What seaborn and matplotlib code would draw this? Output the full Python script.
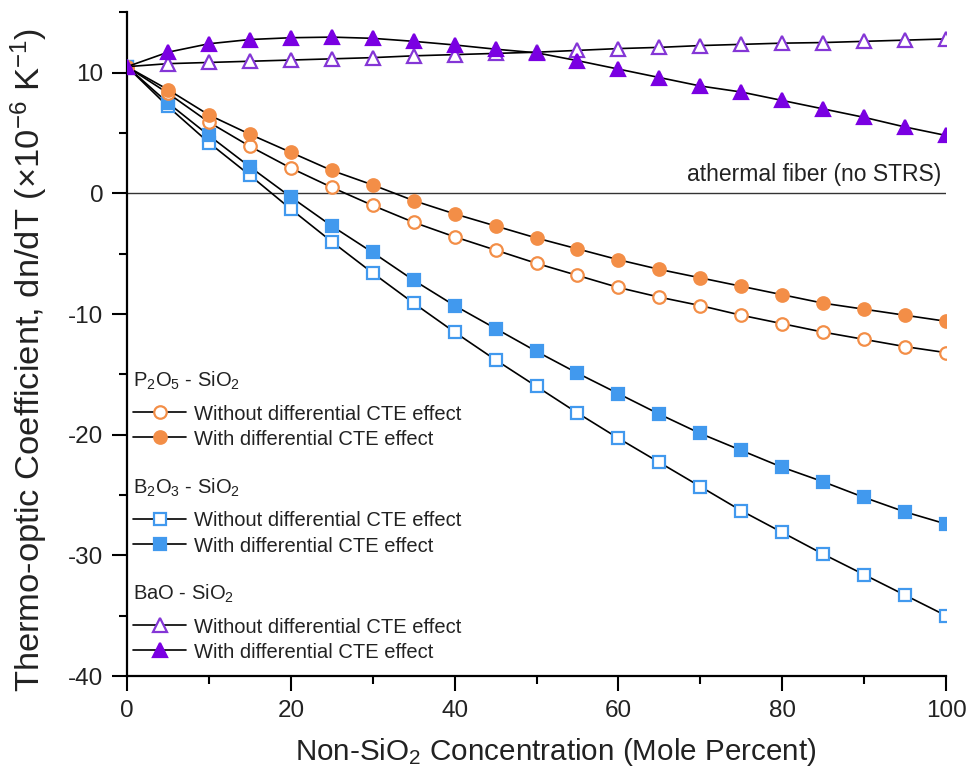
import numpy as np
import pandas as pd
import matplotlib
matplotlib.use("Agg")
import matplotlib.pyplot as plt
from matplotlib.lines import Line2D
from matplotlib.legend import Legend
from matplotlib.ticker import MultipleLocator
import seaborn as sns

# ---- data ----
conc = [0, 5, 10, 15, 20, 25, 30, 35, 40, 45, 50, 55, 60, 65, 70, 75, 80, 85, 90, 95, 100]

p2o5_without = [10.5, 8.3, 5.9, 3.9, 2.1, 0.5, -1.0, -2.4, -3.6, -4.7, -5.8, -6.8, -7.8, -8.6,
                -9.3, -10.1, -10.8, -11.5, -12.1, -12.7, -13.2]
p2o5_with = [10.5, 8.6, 6.5, 4.9, 3.4, 1.9, 0.7, -0.6, -1.7, -2.7, -3.7, -4.6, -5.5, -6.3,
             -7.0, -7.7, -8.4, -9.1, -9.6, -10.1, -10.6]
b2o3_without = [10.5, 7.2, 4.2, 1.5, -1.3, -4.0, -6.6, -9.1, -11.5, -13.8, -16.0, -18.2, -20.3,
                -22.3, -24.3, -26.3, -28.1, -29.9, -31.6, -33.3, -35.0]
b2o3_with = [10.5, 7.5, 4.8, 2.2, -0.3, -2.7, -4.9, -7.2, -9.3, -11.2, -13.1, -14.9, -16.6,
             -18.3, -19.9, -21.3, -22.7, -23.9, -25.2, -26.4, -27.4]
bao_without = [10.5, 10.75, 10.85, 10.95, 11.05, 11.15, 11.25, 11.4, 11.5, 11.6, 11.7, 11.85,
               12.0, 12.1, 12.25, 12.35, 12.45, 12.5, 12.6, 12.7, 12.8]
bao_with = [10.5, 11.7, 12.4, 12.75, 12.9, 12.95, 12.85, 12.6, 12.3, 11.95, 11.65, 11.0, 10.3,
            9.6, 8.9, 8.4, 7.7, 7.0, 6.3, 5.5, 4.8]

x_ticks = [0, 20, 40, 60, 80, 100]
y_ticks = [-40, -30, -20, -10, 0, 10]

group_titles = ["P$_2$O$_5$ - SiO$_2$", "B$_2$O$_3$ - SiO$_2$", "BaO - SiO$_2$"]
entry_labels = ["Without differential CTE effect", "With differential CTE effect"]
athermal_text = "athermal fiber (no STRS)"

# ---- style ----
sns.set_theme(style="ticks")
plt.rcParams['font.family'] = ['Liberation Sans', 'DejaVu Sans']
plt.rcParams['mathtext.fontset'] = 'custom'
plt.rcParams['mathtext.rm'] = 'Liberation Sans'
plt.rcParams['mathtext.it'] = 'Liberation Sans'
plt.rcParams['mathtext.default'] = 'regular'
plt.rcParams['axes.unicode_minus'] = False

ORANGE = '#F38E47'
BLUE = '#4199EE'
PURPLE = '#7A00E2'
PURPLE_OPEN = '#8436D6'
TXT = '#222222'

fig = plt.figure(figsize=(9.74, 7.74), dpi=100)
ax = fig.add_axes([0.1304, 0.1266, 0.8409, 0.8574])

df = pd.DataFrame({
    'conc': conc,
    'p2o5_without': p2o5_without, 'p2o5_with': p2o5_with,
    'b2o3_without': b2o3_without, 'b2o3_with': b2o3_with,
    'bao_without': bao_without, 'bao_with': bao_with,
})

ax.axhline(0, color='#333333', lw=1.0, zorder=1)

series = [
    ('b2o3_without', 's', BLUE, 'white', 8.2),
    ('b2o3_with', 's', BLUE, BLUE, 8.2),
    ('p2o5_without', 'o', ORANGE, 'white', 9.0),
    ('p2o5_with', 'o', ORANGE, ORANGE, 9.0),
    ('bao_without', '^', PURPLE_OPEN, 'white', 10.0),
    ('bao_with', '^', PURPLE, PURPLE, 10.0),
]
handles = {}
for col, mk, ec, fc, ms in series:
    sns.lineplot(data=df, x='conc', y=col, ax=ax, color='black', lw=1.2,
                 marker=mk, markersize=ms, markeredgecolor=ec, markerfacecolor=fc,
                 markeredgewidth=1.6, zorder=3, clip_on=True)
    handles[col] = Line2D([], [], color='black', lw=1.2, marker=mk, markersize=ms,
                          markeredgecolor=ec, markerfacecolor=fc, markeredgewidth=1.6)

ax.set_xlim(0, 100)
ax.set_ylim(-40, 15)
ax.set_xticks(x_ticks)
ax.set_yticks(y_ticks)
ax.xaxis.set_minor_locator(MultipleLocator(10))
ax.yaxis.set_minor_locator(MultipleLocator(5))
ax.tick_params(axis='both', which='major', direction='out', length=11, width=1.5,
               labelsize=17.5, color='black', labelcolor=TXT, pad=6)
ax.tick_params(axis='both', which='minor', direction='out', length=6, width=1.5, color='black')
sns.despine(ax=ax)
for s in ['left', 'bottom']:
    ax.spines[s].set_linewidth(1.6)
    ax.spines[s].set_color('black')

ax.set_xlabel("Non-SiO$_2$ Concentration (Mole Percent)", fontsize=21.3, color=TXT, labelpad=10)
ax.xaxis.set_label_coords(0.524, -0.09)
ax.set_ylabel("Thermo-optic Coefficient, dn/dT (\u00d710$^{-6}$ K$^{-1}$)", fontsize=24.8,
              color=TXT)
ax.yaxis.set_label_coords(-0.094, 0.476)

ax.text(99.4, 0.6, athermal_text, ha='right', va='bottom', fontsize=16.5, color=TXT)

# ---- grouped legends ----
groups = [('p2o5_without', 'p2o5_with'), ('b2o3_without', 'b2o3_with'), ('bao_without', 'bao_with')]
tops = [0.468, 0.307, 0.147]
for title, (a, b), top in zip(group_titles, groups, tops):
    leg = Legend(ax, [handles[a], handles[b]], entry_labels, loc='upper left',
                 bbox_to_anchor=(0.003, top), frameon=False, fontsize=14.5,
                 title=title, title_fontsize=14.5, alignment='left',
                 handlelength=2.6, handletextpad=0.4, labelspacing=0.3,
                 borderpad=0.2, borderaxespad=0.0, handleheight=0.9)
    leg._legend_box.sep = 9
    for t in leg.get_texts():
        t.set_color(TXT)
    leg.get_title().set_color(TXT)
    ax.add_artist(leg)

fig.savefig('out.png', dpi=100)
